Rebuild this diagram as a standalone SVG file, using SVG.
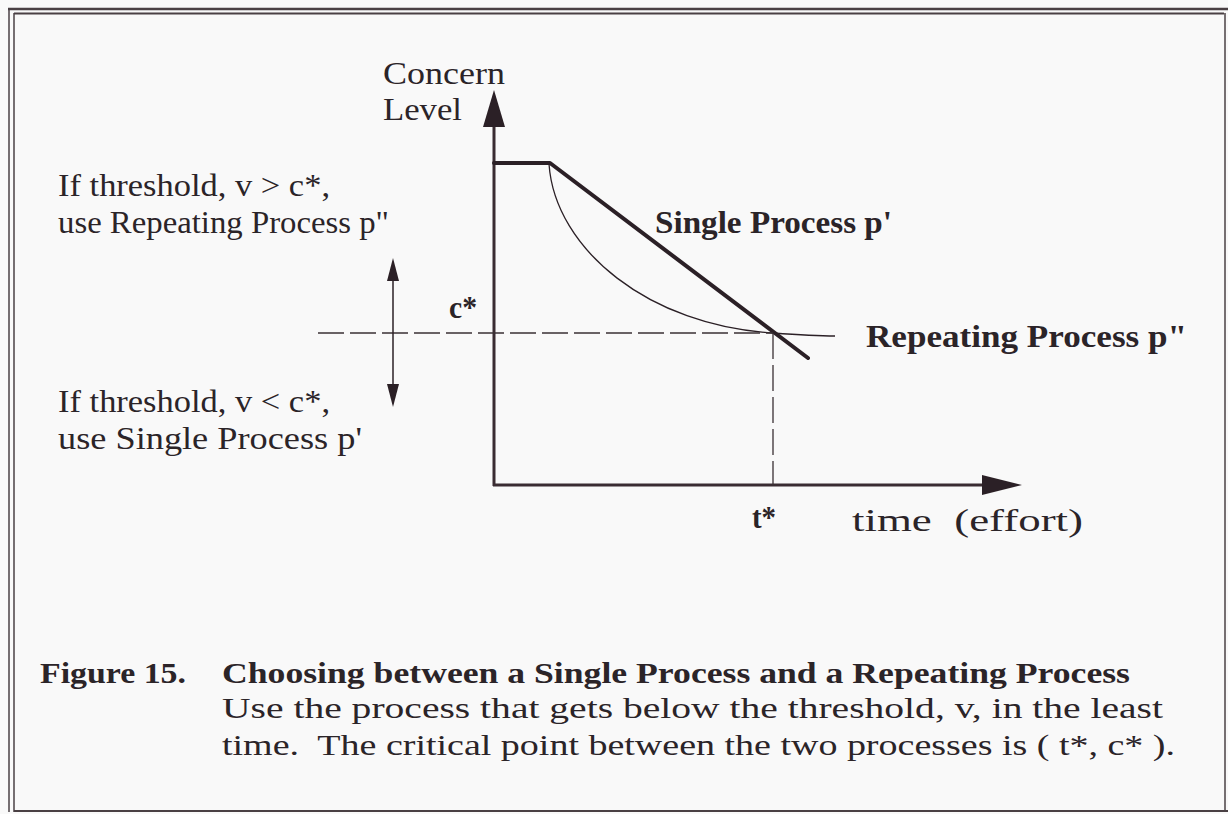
<svg xmlns="http://www.w3.org/2000/svg" width="1228" height="814" viewBox="0 0 1228 814">
<style>
text{font-family:"Liberation Serif","DejaVu Serif",serif;font-size:31px;fill:#2b2428}
.b{font-weight:bold}
.c{font-size:30px}
.ax{stroke:#3a2c32;stroke-width:3;fill:none}
.dash{stroke:#3a3034;stroke-width:1.3;fill:none;stroke-dasharray:26 6}
.frame{stroke:#4a4044;fill:none}
</style>
<rect width="1228" height="814" fill="#f9f9f9"/>
<g id="frame">
<line class="frame" x1="8" y1="9" x2="1228" y2="9" stroke-width="2.5"/>
<line class="frame" x1="14" y1="13.5" x2="1224" y2="13.5" stroke-width="2"/>
<line class="frame" x1="9" y1="9" x2="9" y2="812" stroke-width="1.5"/>
<line class="frame" x1="14" y1="13" x2="14" y2="812" stroke-width="1.5"/>
<line class="frame" x1="1225" y1="13" x2="1225" y2="812" stroke-width="1.5"/>
<line class="frame" x1="14" y1="811" x2="1228" y2="811" stroke-width="2"/>
</g>
<g id="connectors">
<line id="y-axis" class="ax" x1="494" y1="486" x2="494" y2="120"/>
<polygon points="494,90 483,127 505,127" fill="#2b2026"/>
<line id="x-axis" class="ax" x1="493" y1="485" x2="990" y2="485"/>
<polygon points="1022,485 982,475 982,495" fill="#2b2026"/>
<polyline id="single-process" points="494,163 550,163 808,358" fill="none" stroke="#2b2026" stroke-width="4" stroke-linecap="round" stroke-linejoin="round"/>
<line x1="494" y1="163" x2="550" y2="163" stroke="#2b2026" stroke-width="3"/>
<path id="repeating-process" d="M549,164 C555,250 650,326 773,333 C800,335 818,336 835,336" fill="none" stroke="#2b2026" stroke-width="1.3"/>
<line class="dash" x1="318" y1="333" x2="773" y2="333"/>
<line class="dash" x1="773" y1="333" x2="773" y2="485"/>
<line id="threshold-arrow" x1="393" y1="275" x2="393" y2="390" stroke="#2b2026" stroke-width="1.5"/>
<polygon points="393,258 387,281 399,281" fill="#2b2026"/>
<polygon points="393,407 387,384 399,384" fill="#2b2026"/>
</g>
<g id="labels">
<text x="383" y="84" textLength="122" lengthAdjust="spacingAndGlyphs">Concern</text>
<text x="383" y="120" textLength="79" lengthAdjust="spacingAndGlyphs">Level</text>
<text x="58" y="196" textLength="272" lengthAdjust="spacingAndGlyphs">If threshold, v &gt; c*,</text>
<text x="58" y="233" textLength="331" lengthAdjust="spacingAndGlyphs">use Repeating Process p"</text>
<text class="b" x="655" y="233" textLength="237" lengthAdjust="spacingAndGlyphs">Single Process p'</text>
<text class="b" x="449" y="318" textLength="28" lengthAdjust="spacingAndGlyphs">c*</text>
<text class="b" x="866" y="347" textLength="321" lengthAdjust="spacingAndGlyphs">Repeating Process p"</text>
<text x="58" y="412" textLength="272" lengthAdjust="spacingAndGlyphs">If threshold, v &lt; c*,</text>
<text x="58" y="449" textLength="304" lengthAdjust="spacingAndGlyphs">use Single Process p'</text>
<text class="b" x="752" y="528" textLength="24" lengthAdjust="spacingAndGlyphs">t*</text>
<text x="852" y="531" textLength="231" lengthAdjust="spacingAndGlyphs" xml:space="preserve">time  (effort)</text>
</g>
<g id="caption">
<text class="b c" x="40" y="683" textLength="146" lengthAdjust="spacingAndGlyphs">Figure 15.</text>
<text class="b c" x="222" y="683" textLength="908" lengthAdjust="spacingAndGlyphs">Choosing between a Single Process and a Repeating Process</text>
<text class="c" x="222" y="718" textLength="941" lengthAdjust="spacingAndGlyphs">Use the process that gets below the threshold, v, in the least</text>
<text class="c" x="222" y="755" textLength="953" lengthAdjust="spacingAndGlyphs" xml:space="preserve">time.  The critical point between the two processes is ( t*, c* ).</text>
</g>
</svg>
